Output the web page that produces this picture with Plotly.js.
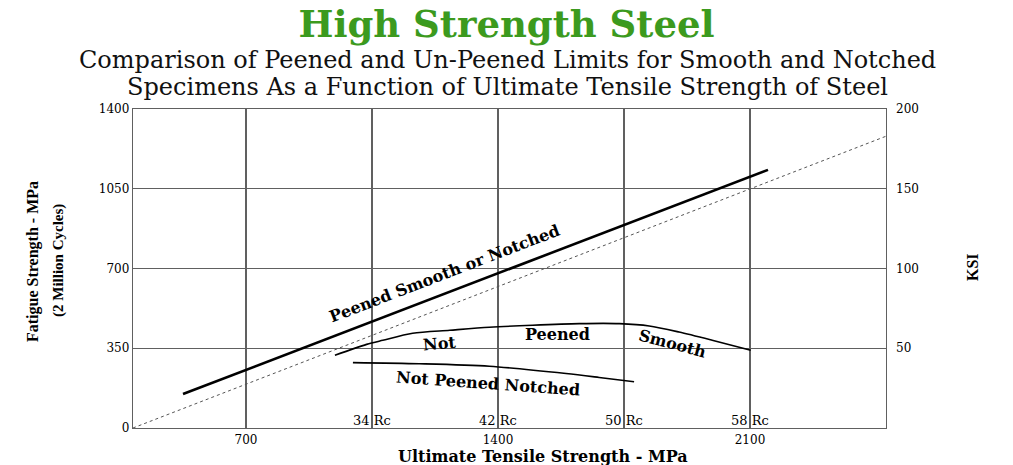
<!DOCTYPE html>
<html>
<head>
<meta charset="utf-8">
<script src="https://cdn.plot.ly/plotly-3.0.1.min.js"></script>
<style>html,body{margin:0;padding:0;background:#fff;}#chart{width:1013px;height:465px;}</style>
</head>
<body>
<div id="chart"></div>
<script>
// Data (MPa)
const peenedX = [525, 2150];
const peenedY = [149, 1133];

const refX = [386, 2477];
const refY = [0, 1280];

const smoothX = [947, 1035, 1080, 1163, 1266, 1376, 1496, 1626, 1737, 1820, 1903, 1995, 2102];
const smoothY = [319, 367, 385, 416, 429, 442, 451, 458, 458, 448, 421, 385, 341];

const notchedX = [997, 1182, 1376, 1589, 1681, 1778];
const notchedY = [287, 282, 271, 239, 222, 203];

const xTickVals = [700, 1050, 1400, 1750, 2100];
const xTickText = ['700', '', '1400', '', '2100'];
const yTickVals = [0, 350, 700, 1050, 1400];
const ksiTickVals = [50, 100, 150, 200];
const rcVals = [1050, 1400, 1750, 2100];
const rcLabels = ['34 Rc', '42 Rc', '50 Rc', '58 Rc'];

const serif = 'DejaVu Serif';
const grid = '#606060';

const traces = [
  {x: refX, y: refY, mode: 'lines', line: {color: '#555', width: 1, dash: '3px,3px'}, hoverinfo: 'skip'},
  {x: peenedX, y: peenedY, mode: 'lines', line: {color: '#000', width: 2.6}},
  {x: smoothX, y: smoothY, mode: 'lines', line: {color: '#000', width: 1.6, shape: 'spline', smoothing: 0.8}},
  {x: notchedX, y: notchedY, mode: 'lines', line: {color: '#000', width: 1.6, shape: 'spline', smoothing: 0.8}},
  {x: [1000], y: [10], yaxis: 'y2', mode: 'markers', marker: {opacity: 0}, hoverinfo: 'skip'}
];

const px = p => (p - 133) / 753;
const py = p => (428 - p) / 319;

function paperText(text, x, y, font, angle) {
  return {text: text, xref: 'paper', yref: 'paper', x: px(x), y: py(y), xanchor: 'center', yanchor: 'middle',
          textangle: angle || 0, showarrow: false, font: font};
}
function dataText(text, x, y, angle) {
  return {text: text, xref: 'x', yref: 'y', x: x, y: y, xanchor: 'center', yanchor: 'middle',
          textangle: angle, showarrow: false, font: {family: serif, size: 16, color: '#000', weight: 'bold'}};
}

const annotations = [
  paperText('Comparison of Peened and Un-Peened Limits for Smooth and Notched', 507, 60, {family: serif, size: 24, color: '#111'}),
  paperText('Specimens As a Function of Ultimate Tensile Strength of Steel', 507, 87, {family: serif, size: 24, color: '#111'}),
  paperText('Fatigue Strength - MPa', 33, 262, {family: 'Liberation Serif', size: 16, color: '#000', weight: 'bold'}, -90),
  paperText('(2 Million Cycles)', 58, 261, {family: 'Liberation Serif', size: 15, color: '#000', weight: 'bold'}, -90),
  paperText('KSI', 972, 267, {family: 'Liberation Serif', size: 16, color: '#000', weight: 'bold'}, -90),
  paperText('Ultimate Tensile Strength - MPa', 543, 456, {family: serif, size: 16, color: '#000', weight: 'bold'}),
  dataText('Peened Smooth or Notched', 1252, 678, -21),
  dataText('Not', 1238, 372, -5),
  dataText('Peened', 1565, 411, 0),
  dataText('Smooth', 1884, 372, 15),
  dataText('Not Peened Notched', 1371, 197, 4)
];
rcVals.forEach((v, i) => annotations.push({
  text: rcLabels[i], xref: 'x', yref: 'paper', x: v, y: py(420), xanchor: 'center', yanchor: 'middle', showarrow: false,
  font: {family: serif, size: 13, color: '#000'}
}));

const layout = {
  width: 1013, height: 465,
  margin: {l: 133, r: 127, t: 109, b: 37},
  paper_bgcolor: '#fff', plot_bgcolor: '#fff',
  showlegend: false,
  title: {text: 'High Strength Steel', x: 0.5, xref: 'container', xanchor: 'center', y: 1 - 24 / 465, yref: 'container', yanchor: 'middle',
          font: {family: serif, size: 37, color: '#3c9a1e', weight: 'bold'}},
  xaxis: {range: [386.11, 2477.78], tickmode: 'array', tickvals: xTickVals, ticktext: xTickText,
          showgrid: true, gridcolor: grid, gridwidth: 1.2, zeroline: false,
          showline: true, linecolor: grid, linewidth: 1.2, mirror: true, ticks: '',
          tickfont: {family: serif, size: 12, color: '#000'}, fixedrange: true},
  yaxis: {range: [0, 1400], tickmode: 'array', tickvals: yTickVals,
          showgrid: true, gridcolor: grid, gridwidth: 1.2, zeroline: false,
          showline: true, linecolor: grid, linewidth: 1.2, mirror: true, ticks: '',
          tickfont: {family: serif, size: 12, color: '#000'}, fixedrange: true},
  yaxis2: {range: [0, 200], overlaying: 'y', side: 'right', tickmode: 'array', tickvals: ksiTickVals,
           showgrid: false, zeroline: false, showline: false, ticks: '', ticklabelstandoff: 9,
           tickfont: {family: serif, size: 12, color: '#000'}, fixedrange: true},
  annotations: annotations
};

Plotly.newPlot('chart', traces, layout, {staticPlot: true, displayModeBar: false});
</script>
</body>
</html>
